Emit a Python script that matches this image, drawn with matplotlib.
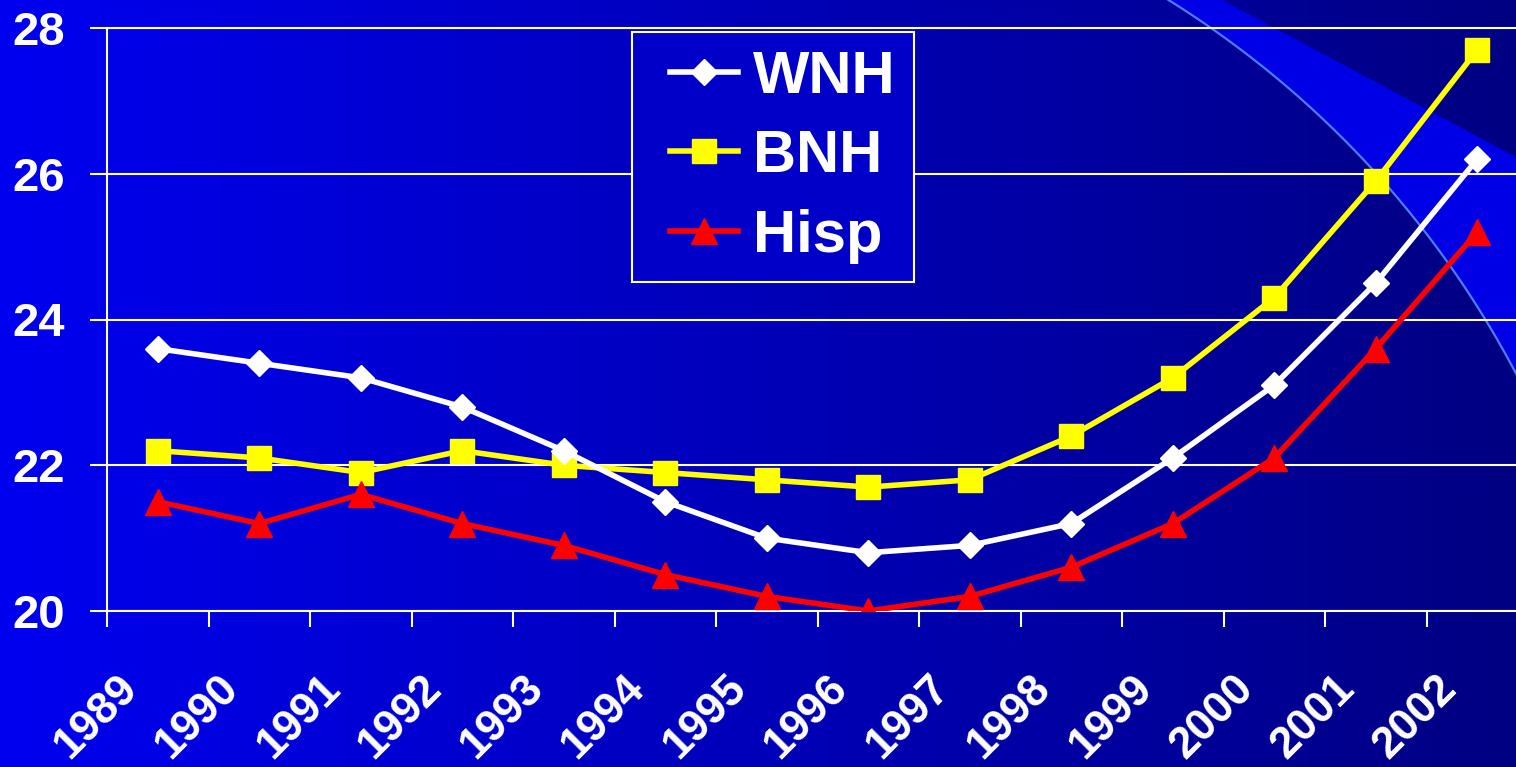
import numpy as np
import matplotlib
matplotlib.use("Agg")
import matplotlib.pyplot as plt
from matplotlib.patches import Polygon
from matplotlib.transforms import ScaledTranslation
from matplotlib.legend_handler import HandlerLine2D

# ========== Data ==========
years = ['1989', '1990', '1991', '1992', '1993', '1994', '1995',
         '1996', '1997', '1998', '1999', '2000', '2001', '2002']
wnh = [23.6, 23.4, 23.2, 22.8, 22.2, 21.5, 21.0, 20.8, 20.9, 21.2, 22.1, 23.1, 24.5, 26.2]
bnh = [22.2, 22.1, 21.9, 22.2, 22.0, 21.9, 21.8, 21.7, 21.8, 22.4, 23.2, 24.3, 25.9, 27.7]
hisp = [21.5, 21.2, 21.6, 21.2, 20.9, 20.5, 20.2, 20.0, 20.2, 20.6, 21.2, 22.1, 23.6, 25.2]
yticks = [20, 22, 24, 26, 28]

W, H = 1516, 767
plt.rcParams['font.family'] = ['Liberation Sans', 'DejaVu Sans']
plt.rcParams['font.weight'] = 'bold'

fig = plt.figure(figsize=(W / 100, H / 100), dpi=100)

# ========== Background (gradient + decorative band) ==========
bg = fig.add_axes([0, 0, 1, 1], zorder=0)
grad = np.linspace(0, 1, 512)[None, :, None]
left_col = np.array([0, 0, 240]) / 255
right_col = np.array([0, 0, 130]) / 255
img = left_col * (1 - grad) + right_col * grad
bg.imshow(img, extent=[0, W, H, 0], aspect='auto')

cx, cy, r = 654, 827, 974
ys = np.linspace(0, cy - np.sqrt(r**2 - (W - cx)**2), 100)
xs = cx + np.sqrt(r**2 - (cy - ys)**2)
band = list(zip(xs, ys)) + [(W, 157), (1222, 0)]
bg.add_patch(Polygon(band, closed=True, facecolor='#0000E6', edgecolor='none'))
ys2 = np.linspace(0, H, 300)
xs2 = cx + np.sqrt(np.clip(r**2 - (cy - ys2)**2, 0, None))
bg.plot(xs2, ys2, color='#4A7CFF', lw=1.6)
bg.set_xlim(0, W)
bg.set_ylim(H, 0)
bg.axis('off')

# ========== Main chart ==========
ax = fig.add_axes([107 / W, 1 - 611 / H, 1421 / W, 583 / H], zorder=1)
ax.set_facecolor('none')
x = np.arange(len(years))

ax.plot(x, wnh, color='white', lw=4, marker='D', ms=13, mfc='white', mec='white', label='WNH', zorder=4)
ax.plot(x, bnh, color='#FFFF00', lw=4, marker='s', ms=17, mfc='#FFFF00', mec='#FFFF00', label='BNH', zorder=3)
ax.plot(x, hisp, color='#FF0000', lw=4, marker='^', ms=19, mfc='#FF0000', mec='#FF0000', label='Hisp', zorder=3)

ax.set_xlim(-0.5, len(years) - 0.5)
ax.set_ylim(20, 28)
ax.set_yticks(yticks)
ax.set_yticklabels([str(v) for v in yticks])
ax.yaxis.grid(True, color='white', lw=1.5)
ax.set_axisbelow(True)

ax.set_xticks(x)
ax.set_xticklabels(years, rotation=45, ha='right', va='center', rotation_mode='anchor')
ax.set_xticks(np.arange(-0.5, len(years), 1), minor=True)
ax.tick_params(axis='x', which='major', length=0, pad=51, labelsize=32, labelcolor='white')
ax.tick_params(axis='x', which='minor', length=11.5, width=1.5, color='white', direction='out')
ax.tick_params(axis='y', length=12, width=1.5, color='white', pad=18, labelsize=34, labelcolor='white')

offset = ScaledTranslation(-27 / 100, 0, fig.dpi_scale_trans)
for lab in ax.get_xticklabels():
    lab.set_transform(lab.get_transform() + offset)

for side in ['top', 'bottom', 'left']:
    ax.spines[side].set_color('white')
    ax.spines[side].set_linewidth(1.5)
ax.spines['right'].set_visible(False)

# legend: handle shifted right inside its box with xpad
leg_fs = 43
hpad = 0.34
leg = ax.legend(loc='upper left', bbox_to_anchor=(632 / W, 1 - 32 / H), bbox_transform=fig.transFigure,
                fontsize=leg_fs, frameon=True, fancybox=False, facecolor='#0000C8', edgecolor='white',
                framealpha=1, borderpad=0.3, labelspacing=0.41, handlelength=1.14 + hpad,
                handletextpad=0.25, borderaxespad=0,
                handler_map={l: HandlerLine2D(xpad=hpad) for l in ax.get_lines()})
leg.get_frame().set_linewidth(1.5)
for t in leg.get_texts():
    t.set_color('white')

plt.savefig('out.png', dpi=100)
